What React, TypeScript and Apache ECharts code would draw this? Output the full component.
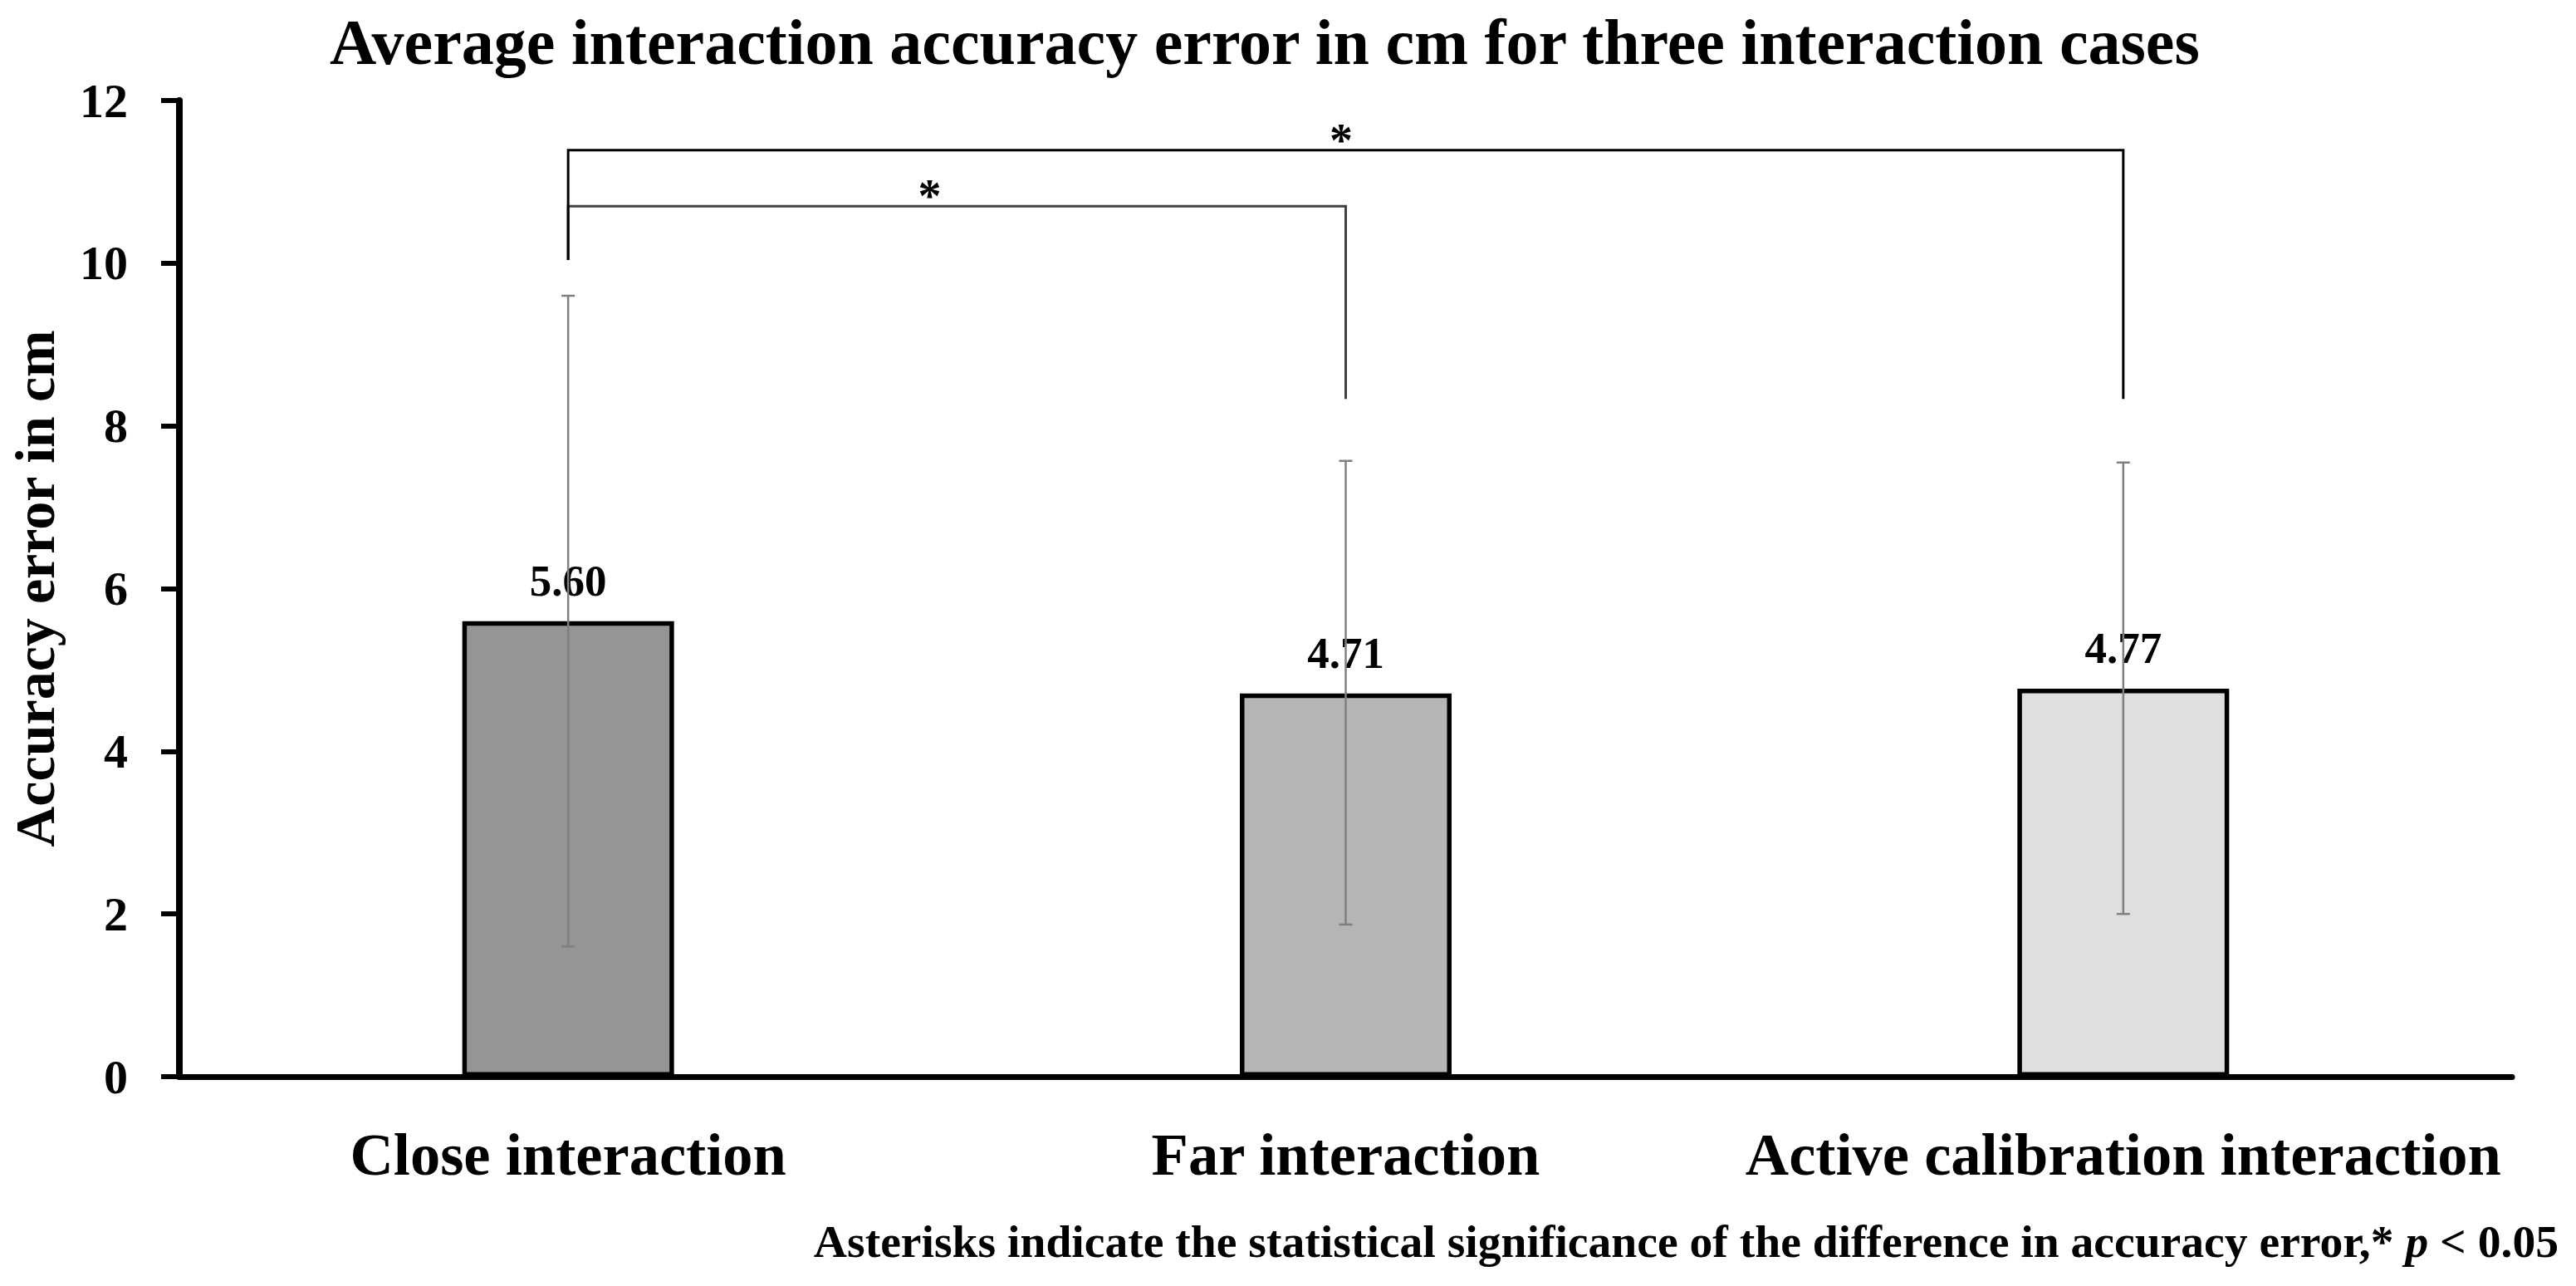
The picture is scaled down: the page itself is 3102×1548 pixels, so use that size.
import React, { useEffect, useRef } from "react";
import * as echarts from "echarts";

const categories = ["Close interaction", "Far interaction", "Active calibration interaction"];
const meanError = [5.6, 4.71, 4.77];
const errorLow = [1.6, 1.87, 2.0];
const errorHigh = [9.6, 7.57, 7.55];
const barColors = ["#959595", "#b5b5b5", "#dfdfdf"];
const yMin = 0;
const yMax = 12;
const yInterval = 2;
// significance brackets: [fromIndex, toIndex, lineValue, fromBottomValue, toBottomValue]
const brackets = [
  [0, 1, 10.7, 10.04, 8.33],
  [0, 2, 11.39, 10.04, 8.33],
];
const bracketMarks = ["*", "*"];

const titleText = "Average interaction accuracy error in cm for three interaction cases";
const yAxisTitle = "Accuracy error in cm";
const footnote = "Asterisks indicate the statistical significance of the difference in accuracy error,* {it|p} < 0.05";

const FONT = "'Liberation Serif', 'Times New Roman', serif";

export default function App() {
  const ref = useRef<HTMLDivElement>(null);
  useEffect(() => {
    if (!ref.current) return;
    const chart = echarts.init(ref.current, null, { renderer: "svg" });
    const starFrac = [0.465, 0.497];
    const starColors = ["#404040", "#000000"];
    const option: any = {
      animation: false,
      backgroundColor: "#ffffff",
      title: [
        {
          text: titleText,
          left: 392,
          top: 6,
          textStyle: { fontFamily: FONT, fontWeight: "bold", fontSize: 78, color: "#000" },
        },
        {
          text: footnote,
          right: 16,
          top: 1461,
          textStyle: {
            fontFamily: FONT,
            fontWeight: "bold",
            fontSize: 55.6,
            color: "#000",
            rich: {
              it: { fontFamily: FONT, fontWeight: "bold", fontStyle: "italic", fontSize: 55.6, color: "#000" },
            },
          },
        },
      ],
      grid: { left: 214, right: 77, top: 121, bottom: 252, containLabel: false },
      xAxis: {
        type: "category",
        data: categories,
        axisLine: { show: true, lineStyle: { color: "#000", width: 7 } },
        axisTick: { show: false },
        axisLabel: {
          margin: 57,
          fontFamily: FONT,
          fontWeight: "bold",
          fontSize: 72.5,
          color: "#000",
          interval: 0,
        },
        splitLine: { show: false },
      },
      yAxis: {
        type: "value",
        min: yMin,
        max: yMax,
        interval: yInterval,
        name: yAxisTitle,
        nameLocation: "middle",
        nameGap: 140,
        nameRotate: 90,
        nameTextStyle: { fontFamily: FONT, fontWeight: "bold", fontSize: 68, color: "#000" },
        axisLine: { show: true, lineStyle: { color: "#000", width: 8 } },
        axisTick: { show: true, inside: false, length: 22, lineStyle: { color: "#000", width: 6 } },
        axisLabel: { margin: 62, fontFamily: FONT, fontWeight: "bold", fontSize: 58, color: "#000" },
        splitLine: { show: false },
      },
      series: [
        {
          type: "bar",
          barWidth: 255,
          data: meanError.map((v, i) => ({
            value: v,
            itemStyle: { color: barColors[i], borderColor: "#000", borderWidth: 5.5 },
          })),
          label: {
            show: true,
            position: "top",
            distance: 22,
            formatter: (p: any) => p.value.toFixed(2),
            fontFamily: FONT,
            fontWeight: "bold",
            fontSize: 53,
            color: "#000",
          },
          z: 2,
        },
        {
          type: "custom",
          clip: false,
          z: 5,
          data: categories.map((_, i) => [i, errorLow[i], errorHigh[i]]),
          encode: { x: 0, y: [1, 2] },
          renderItem: (params: any, api: any) => {
            const i = api.value(0);
            const lo = api.coord([i, api.value(1)]);
            const hi = api.coord([i, api.value(2)]);
            const cap = 8;
            const st = { stroke: "#7f7f7f", lineWidth: 2.5 };
            return {
              type: "group",
              children: [
                { type: "line", shape: { x1: lo[0], y1: lo[1], x2: hi[0], y2: hi[1] }, style: st },
                { type: "line", shape: { x1: lo[0] - cap, y1: lo[1], x2: lo[0] + cap, y2: lo[1] }, style: st },
                { type: "line", shape: { x1: hi[0] - cap, y1: hi[1], x2: hi[0] + cap, y2: hi[1] }, style: st },
              ],
            };
          },
        },
        {
          type: "custom",
          clip: false,
          z: 6,
          data: brackets,
          encode: { x: [0, 1], y: [2, 3, 4] },
          renderItem: (params: any, api: any) => {
            const idx = params.dataIndex;
            const a = api.value(0);
            const b = api.value(1);
            const top = api.value(2);
            const pA = api.coord([a, top]);
            const pB = api.coord([b, top]);
            const bA = api.coord([a, api.value(3)]);
            const bB = api.coord([b, api.value(4)]);
            const color = starColors[idx];
            const st = { stroke: color, lineWidth: 3, fill: null };
            const sx = pA[0] + (pB[0] - pA[0]) * starFrac[idx];
            return {
              type: "group",
              children: [
                {
                  type: "polyline",
                  shape: { points: [[bA[0], bA[1]], [pA[0], pA[1]], [pB[0], pB[1]], [bB[0], bB[1]]] },
                  style: st,
                },
                {
                  type: "text",
                  style: {
                    text: bracketMarks[idx],
                    x: sx,
                    y: pA[1] + 16,
                    align: "center",
                    verticalAlign: "bottom",
                    fontFamily: FONT,
                    fontWeight: "bold",
                    fontSize: 56,
                    fill: "#000",
                  },
                },
              ],
            };
          },
        },
      ],
    };
    chart.setOption(option);
    return () => chart.dispose();
  }, []);
  return (
    <div
      ref={ref}
      style={{ position: "fixed", left: 0, top: 0, width: 3102, height: 1548, background: "#fff" }}
    />
  );
}
